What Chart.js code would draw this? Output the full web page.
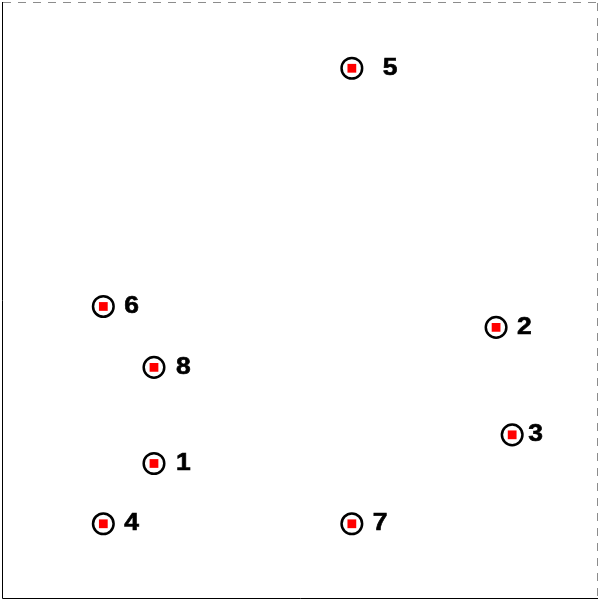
<!DOCTYPE html>
<html>
<head>
<meta charset="utf-8">
<script src="https://cdn.jsdelivr.net/npm/chart.js@4"></script>
<style>
html,body{margin:0;padding:0;background:#fff;}
#wrap{width:600px;height:601px;}
</style>
</head>
<body>
<div id="wrap"><canvas id="c"></canvas></div>
<script>
const nodeLabels = ["1","2","3","4","5","6","7","8"];
const xValues = [2.55, 8.29, 8.56, 1.70, 5.87, 1.70, 5.87, 2.55];
const yValues = [2.27, 4.55, 2.75, 1.26, 8.89, 4.90, 1.26, 3.88];

const pts = xValues.map((x, i) => ({x: x, y: yValues[i]}));

const framePlugin = {
  id: 'frame',
  afterDraw(chart) {
    const {ctx, chartArea: a} = chart;
    ctx.save();
    ctx.lineWidth = 1;
    ctx.strokeStyle = '#8c8c8c';
    ctx.setLineDash([8, 7]);
    ctx.beginPath();
    ctx.moveTo(a.left + 1, a.top + 0.5);
    ctx.lineTo(a.right, a.top + 0.5);
    ctx.stroke();
    ctx.beginPath();
    ctx.moveTo(a.right - 0.5, a.top + 1);
    ctx.lineTo(a.right - 0.5, a.bottom);
    ctx.stroke();
    ctx.setLineDash([]);
    ctx.strokeStyle = '#000';
    ctx.beginPath();
    ctx.moveTo(a.left + 0.5, a.top);
    ctx.lineTo(a.left + 0.5, a.bottom - 0.5);
    ctx.lineTo(a.right, a.bottom - 0.5);
    ctx.stroke();
    ctx.restore();
  }
};

const labelPlugin = {
  id: 'nodeLabels',
  afterDatasetsDraw(chart) {
    const ctx = chart.ctx;
    const meta = chart.getDatasetMeta(0);
    const extra = {"5": 10, "3": -5, "1": 1, "8": 1};
    meta.data.forEach((el, i) => {
      const off = 21 + (extra[nodeLabels[i]] || 0);
      ctx.save();
      ctx.translate(el.x + off, el.y);
      ctx.scale(1.15, 1);
      ctx.font = 'bold 23px "Liberation Sans", Arial, sans-serif';
      ctx.fillStyle = '#000';
      ctx.strokeStyle = '#000';
      ctx.lineWidth = 0.6;
      ctx.textAlign = 'left';
      ctx.textBaseline = 'middle';
      ctx.fillText(nodeLabels[i], 0, 0);
      ctx.strokeText(nodeLabels[i], 0, 0);
      ctx.restore();
    });
  }
};

new Chart(document.getElementById('c'), {
  type: 'scatter',
  data: {
    datasets: [
      {
        data: pts,
        pointStyle: 'circle',
        pointRadius: 10.3,
        pointHoverRadius: 10.3,
        backgroundColor: 'rgba(255,255,255,0)',
        borderColor: '#000',
        borderWidth: 2.5
      },
      {
        data: pts,
        pointStyle: 'rect',
        pointRadius: 6.2,
        pointHoverRadius: 6.2,
        backgroundColor: '#ff0000',
        borderColor: '#ff0000',
        borderWidth: 0
      }
    ]
  },
  options: {
    responsive: true,
    maintainAspectRatio: false,
    animation: false,
    layout: {autoPadding: false, padding: {left: 2, top: 2, right: 2, bottom: 2}},
    plugins: {legend: {display: false}, tooltip: {enabled: false}},
    scales: {
      x: {type: 'linear', min: 0, max: 10, display: false},
      y: {type: 'linear', min: 0, max: 10, display: false}
    }
  },
  plugins: [framePlugin, labelPlugin]
});
</script>
</body>
</html>
